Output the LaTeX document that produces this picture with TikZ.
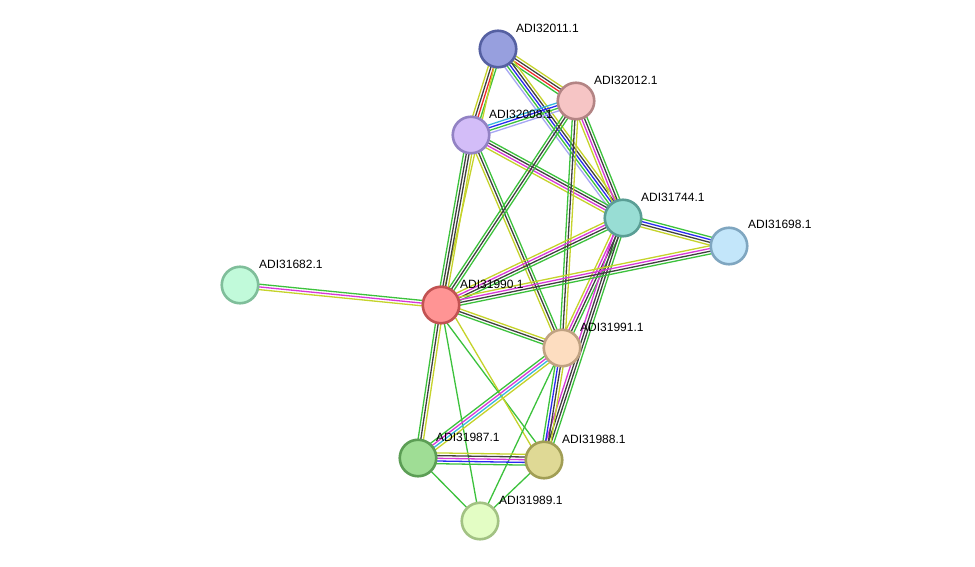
\documentclass[tikz,border=0pt]{standalone}
\usepackage{fontspec}
\setmainfont{Liberation Sans}
\usetikzlibrary{calc}
\pgfdeclarelayer{bg}
\pgfdeclarelayer{paper}
\pgfsetlayers{paper,bg,main}
\definecolor{eG}{HTML}{3CC23C}
\definecolor{eY}{HTML}{C5D32A}
\definecolor{eK}{HTML}{404040}
\definecolor{eM}{HTML}{D838D8}
\definecolor{eC}{HTML}{36B8DC}
\definecolor{eB}{HTML}{2A2AF0}
\definecolor{eR}{HTML}{EE2A2A}
\definecolor{eL}{HTML}{A6A6F4}
\newcommand{\ed}[4]{%
  \foreach \col [count=\i] in {#4} {%
    \pgfmathsetmacro\off{(\i-(#3+1)/2)*2.7}%
    \draw[line width=1.3pt,\col] ($(#1)!\off pt!90:(#2)$) -- ($(#2)!\off pt!-90:(#1)$);%
  }}
\definecolor{f1}{HTML}{979FDE}\definecolor{d1}{HTML}{5560A2}
\definecolor{f2}{HTML}{F6C5C5}\definecolor{d2}{HTML}{B38484}
\definecolor{f3}{HTML}{D3BDF8}\definecolor{d3}{HTML}{9282C4}
\definecolor{f4}{HTML}{98DDD4}\definecolor{d4}{HTML}{5A9E95}
\definecolor{f5}{HTML}{C3E6FA}\definecolor{d5}{HTML}{7FA6C0}
\definecolor{f6}{HTML}{C1FADA}\definecolor{d6}{HTML}{7FBE9A}
\definecolor{f7}{HTML}{FF9494}\definecolor{d7}{HTML}{C25252}
\definecolor{f8}{HTML}{FDDDC0}\definecolor{d8}{HTML}{C0A282}
\definecolor{f9}{HTML}{9FDD95}\definecolor{d9}{HTML}{5C9E55}
\definecolor{f10}{HTML}{DFD995}\definecolor{d10}{HTML}{A19E55}
\definecolor{f11}{HTML}{E3FDC4}\definecolor{d11}{HTML}{A2C283}
\tikzset{
  prot/.style={circle,minimum size=36.5pt,inner sep=0pt,line width=2.6pt},
  p/.style 2 args={prot,fill=#1,draw=#2},
  lab/.style={anchor=west,inner sep=0pt,font=\fontsize{12}{14}\selectfont}
}
\begin{document}
\begin{tikzpicture}[x=1pt,y=-1pt]
\begin{pgfonlayer}{paper}
\fill[white] (0,0) rectangle (975,567);
\end{pgfonlayer}
\useasboundingbox (0,0) rectangle (975,567);
\node[p={f1}{d1}] (n2011) at (498,49) {};
\node[p={f2}{d2}] (n2012) at (576,101) {};
\node[p={f3}{d3}] (n2008) at (471,135) {};
\node[p={f4}{d4}] (n1744) at (623,218) {};
\node[p={f5}{d5}] (n1698) at (729,246) {};
\node[p={f6}{d6}] (n1682) at (240,285) {};
\node[p={f7}{d7}] (n1990) at (441,305) {};
\node[p={f8}{d8}] (n1991) at (562,348) {};
\node[p={f9}{d9}] (n1987) at (418,458) {};
\node[p={f10}{d10}] (n1988) at (544,460) {};
\node[p={f11}{d11}] (n1989) at (480,521) {};
\node[lab] (l2011) at (516,28) {ADI32011.1};
\node[lab] (l2012) at (594,80) {ADI32012.1};
\node[lab] (l2008) at (489,114) {ADI32008.1};
\node[lab] (l1744) at (641,197) {ADI31744.1};
\node[lab] (l1698) at (748,224) {ADI31698.1};
\node[lab] (l1682) at (259,264) {ADI31682.1};
\node[lab] (l1990) at (460,284) {ADI31990.1};
\node[lab] (l1991) at (580,327) {ADI31991.1};
\node[lab] (l1987) at (436,437) {ADI31987.1};
\node[lab] (l1988) at (562,439) {ADI31988.1};
\node[lab] (l1989) at (499,500) {ADI31989.1};
\begin{pgfonlayer}{bg}
\ed{n2011}{n2012}{4}{eG,eR,eK,eY}
\ed{n2011}{n2008}{4}{eY,eK,eR,eG}
\ed{n2011}{n1744}{5}{eL,eG,eB,eK,eY}
\ed{n2011}{n1990}{1}{eY}
\ed{n2008}{n2012}{4}{eL,eG,eB,eC}
\ed{n2008}{n1744}{4}{eY,eM,eK,eG}
\ed{n2008}{n1990}{4}{eG,eK,eK,eY}
\ed{n2008}{n1991}{3}{eY,eK,eG}
\ed{n2012}{n1744}{4}{eY,eM,eK,eG}
\ed{n2012}{n1991}{3}{eG,eK,eY}
\ed{n2012}{n1990}{3}{eG,eK,eG}
\ed{n1744}{n1698}{4}{eY,eK,eB,eG}
\ed{n1744}{n1990}{4}{eY,eM,eK,eG}
\ed{n1744}{n1991}{4}{eY,eM,eK,eG}
\ed{n1744}{n1988}{4}{eM,eK,eK,eG}
\ed{n1698}{n1990}{4}{eY,eM,eK,eG}
\ed{n1990}{n1682}{3}{eG,eM,eY}
\ed{n1990}{n1991}{3}{eG,eK,eY}
\ed{n1990}{n1987}{3}{eG,eK,eY}
\draw[line width=1.3pt,eG] ($(n1990)!6pt!-90:(n1988)$) -- ($(n1988)!4pt!-90:(n1990)$);
\draw[line width=1.3pt,eY] ($(n1990)!6pt!90:(n1988)$) -- ($(n1988)!4pt!90:(n1990)$);
\ed{n1990}{n1989}{1}{eG}
\ed{n1991}{n1987}{4}{eG,eM,eC,eY}
\ed{n1991}{n1988}{4}{eG,eB,eK,eY}
\ed{n1991}{n1989}{1}{eG}
\ed{n1987}{n1988}{5}{eG,eB,eM,eK,eY}
\ed{n1987}{n1989}{1}{eG}
\ed{n1988}{n1989}{1}{eG}
\end{pgfonlayer}
\end{tikzpicture}
\end{document}
